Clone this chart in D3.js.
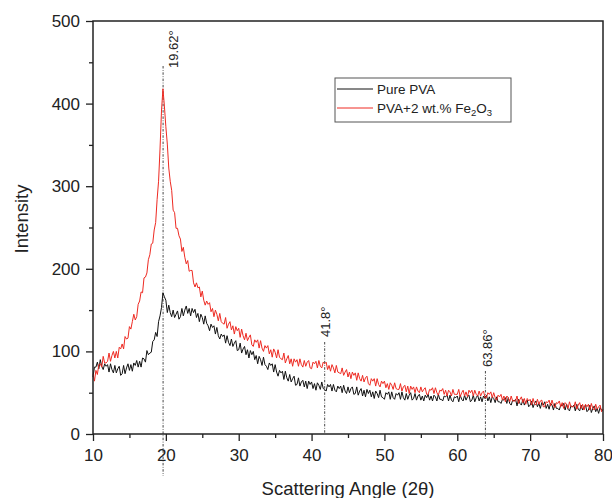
<!DOCTYPE html>
<html><head><meta charset="utf-8">
<script src="https://cdn.jsdelivr.net/npm/d3@7"></script>
<style>
body{margin:0;background:#fff}
text{font-family:"Liberation Sans",Arial,Helvetica,sans-serif;fill:#222}
</style>
</head><body>
<svg id="chart" width="612" height="498"></svg>
<script>
// ---------------- data ----------------
const angleStart = 10;      // 2θ of first sample
const angleStep = 0.2;      // sampling step (degrees)

const purePVA = [
  69, 81, 81, 87, 79, 90, 82, 78, 85, 82,
  84, 75, 85, 78, 74, 83, 74, 79, 82, 71,
  73, 83, 73, 80, 85, 77, 84, 76, 86, 83,
  89, 81, 88, 81, 92, 91, 87, 101, 96, 98,
  99, 112, 114, 123, 118, 136, 143, 153, 171, 166,
  162, 147, 156, 147, 142, 150, 141, 145, 149, 139,
  142, 152, 143, 150, 155, 146, 152, 143, 152, 147,
  151, 141, 146, 136, 145, 141, 133, 143, 134, 131,
  125, 133, 129, 131, 121, 129, 119, 115, 121, 118,
  120, 110, 119, 111, 107, 115, 106, 110, 113, 101,
  102, 110, 98, 103, 106, 96, 102, 92, 101, 96,
  100, 90, 95, 85, 94, 90, 83, 93, 84, 82,
  78, 86, 83, 85, 75, 84, 75, 70, 77, 74,
  76, 66, 76, 68, 64, 72, 63, 67, 70, 59,
  60, 68, 58, 63, 65, 57, 64, 55, 64, 60,
  63, 55, 61, 53, 62, 59, 54, 63, 55, 54,
  52, 60, 57, 60, 52, 60, 53, 51, 58, 55,
  58, 50, 59, 52, 49, 57, 50, 55, 57, 48,
  49, 57, 47, 52, 55, 46, 53, 45, 54, 49,
  53, 45, 51, 43, 52, 49, 44, 53, 45, 44,
  42, 50, 48, 51, 42, 51, 44, 42, 49, 47,
  50, 42, 51, 44, 41, 49, 42, 47, 50, 41,
  43, 49, 41, 46, 48, 41, 46, 40, 47, 44,
  48, 41, 46, 40, 47, 45, 40, 48, 42, 42,
  40, 46, 45, 47, 40, 47, 41, 39, 45, 44,
  46, 39, 47, 42, 40, 47, 41, 45, 47, 39,
  41, 47, 39, 44, 47, 40, 45, 39, 46, 43,
  47, 40, 45, 38, 45, 43, 38, 45, 39, 39,
  37, 42, 41, 44, 37, 44, 37, 35, 41, 40,
  42, 34, 42, 37, 35, 42, 35, 39, 41, 33,
  35, 40, 32, 37, 40, 33, 37, 31, 38, 35,
  39, 31, 36, 30, 37, 35, 29, 37, 31, 31,
  29, 35, 34, 37, 29, 36, 30, 28, 34, 33,
  35, 28, 36, 30, 28, 35, 29, 33, 35, 27,
  29, 35, 26, 31, 34, 27, 31, 25, 32, 29,
  28
];

const pvaFe2O3 = [
  73, 64, 77, 72, 84, 85, 81, 94, 86, 86,
  88, 98, 88, 95, 100, 92, 100, 92, 105, 103,
  109, 103, 118, 115, 116, 130, 127, 136, 145, 138,
  142, 157, 161, 172, 171, 189, 190, 195, 211, 217,
  230, 231, 247, 256, 284, 306, 345, 391, 418, 397,
  372, 351, 322, 306, 295, 271, 268, 249, 249, 240,
  236, 221, 226, 214, 206, 210, 197, 198, 198, 183,
  178, 183, 177, 178, 166, 173, 162, 156, 161, 157,
  159, 148, 152, 142, 150, 145, 137, 146, 136, 134,
  133, 141, 128, 133, 136, 126, 131, 121, 130, 125,
  128, 117, 127, 119, 114, 122, 113, 117, 120, 108,
  106, 114, 111, 114, 104, 113, 104, 100, 107, 104,
  107, 97, 102, 93, 103, 99, 92, 102, 93, 91,
  90, 98, 86, 91, 95, 85, 91, 82, 91, 87,
  90, 82, 91, 84, 81, 89, 82, 87, 89, 80,
  79, 87, 85, 88, 80, 89, 82, 80, 87, 85,
  87, 78, 83, 76, 84, 80, 74, 83, 75, 74,
  73, 80, 71, 75, 78, 69, 75, 67, 75, 71,
  74, 65, 74, 67, 64, 71, 63, 68, 70, 61,
  59, 67, 64, 67, 58, 67, 60, 57, 64, 61,
  64, 56, 61, 54, 62, 59, 54, 62, 55, 54,
  54, 61, 52, 57, 59, 51, 58, 49, 58, 54,
  57, 50, 57, 52, 50, 57, 51, 54, 56, 48,
  48, 54, 53, 56, 49, 56, 50, 47, 53, 52,
  55, 48, 53, 46, 53, 51, 46, 54, 48, 48,
  48, 54, 45, 50, 53, 46, 51, 45, 53, 50,
  53, 46, 53, 48, 46, 52, 46, 50, 52, 44,
  44, 50, 48, 51, 44, 50, 44, 41, 47, 45,
  48, 41, 46, 39, 46, 44, 39, 46, 40, 40,
  40, 46, 37, 42, 45, 38, 43, 36, 43, 40,
  42, 35, 43, 37, 35, 42, 36, 40, 41, 33,
  33, 39, 38, 41, 34, 41, 35, 32, 38, 37,
  40, 33, 38, 31, 38, 36, 31, 39, 33, 33,
  33, 39, 30, 35, 38, 31, 36, 29, 36, 33,
  36, 29, 37, 31, 29, 36, 30, 33, 35, 27,
  30
];

const seriesNames = ["Pure PVA", "PVA+2 wt.% Fe2O3"];
const xTicks = [10, 20, 30, 40, 50, 60, 70, 80];
const xMinorTicks = [15, 25, 35, 45, 55, 65, 75];
const yTicks = [0, 100, 200, 300, 400, 500];
const yMinorTicks = [50, 150, 250, 350, 450];
const peakAngles = [19.62, 41.8, 63.86];
const peakLabels = ["19.62\u00B0", "41.8\u00B0", "63.86\u00B0"];

// ---------------- chart ----------------
const svg = d3.select("#chart");
const L = 93, R = 603, T = 21, B = 434;
const x = d3.scaleLinear().domain([10, 80]).range([L, R]);
const y = d3.scaleLinear().domain([0, 500]).range([B, T]);

const toPoints = arr => arr.map((v, i) => [angleStart + i * angleStep, v]);
const line = d3.line().x(d => x(d[0])).y(d => y(d[1]));

// peak marker lines (under data)
const markerTop = [66, 342, 371];
const markerBottom = [476, 434, 440];
const labelBottom = [68, 337, 367];
const labelX = [178, 330, 492];
peakAngles.forEach((a, i) => {
  svg.append("line")
    .attr("x1", x(a)).attr("x2", x(a))
    .attr("y1", markerTop[i]).attr("y2", markerBottom[i])
    .attr("stroke", "#333").attr("stroke-width", 0.9)
    .attr("stroke-dasharray", "2.5,1.5,0.8,1.5");
  svg.append("text")
    .attr("transform", `translate(${labelX[i]},${labelBottom[i]}) rotate(-90)`)
    .attr("text-anchor", "start")
    .attr("font-size", 13)
    .text(peakLabels[i]);
});

// data lines
svg.append("path").datum(toPoints(purePVA))
  .attr("fill", "none").attr("stroke", "#111").attr("stroke-width", 1)
  .attr("d", line);
svg.append("path").datum(toPoints(pvaFe2O3))
  .attr("fill", "none").attr("stroke", "#ee2a22").attr("stroke-width", 1)
  .attr("d", line);

// axes
const styleAxis = g => {
  g.select(".domain").remove();
  g.selectAll(".tick line").attr("stroke", "#222").attr("stroke-width", 1.3);
  g.selectAll("text").attr("font-size", 17).attr("fill", "#222")
    .style("font-family", '"Liberation Sans",Arial,sans-serif');
};
svg.append("g").attr("transform", `translate(${L},0)`)
  .call(d3.axisLeft(y).tickValues(yTicks).tickSize(7).tickPadding(6))
  .call(styleAxis);
svg.append("g").attr("transform", `translate(${L},0)`)
  .call(d3.axisLeft(y).tickValues(yMinorTicks).tickSize(4).tickFormat(""))
  .call(styleAxis);
svg.append("g").attr("transform", `translate(0,${B})`)
  .call(d3.axisBottom(x).tickValues(xTicks).tickSize(7).tickPadding(8))
  .call(styleAxis);
svg.append("g").attr("transform", `translate(0,${B})`)
  .call(d3.axisBottom(x).tickValues(xMinorTicks).tickSize(4).tickFormat(""))
  .call(styleAxis);

// frame
svg.append("rect").attr("x", L).attr("y", T).attr("width", R - L).attr("height", B - T)
  .attr("fill", "none").attr("stroke", "#222").attr("stroke-width", 1.5);

// axis titles
svg.append("text")
  .attr("x", (L + R) / 2).attr("y", 495)
  .attr("text-anchor", "middle").attr("font-size", 18.5)
  .text("Scattering Angle (2\u03B8)");
svg.append("text")
  .attr("transform", "translate(28,219) rotate(-90)")
  .attr("text-anchor", "middle").attr("font-size", 18.5)
  .text("Intensity");

// legend
const lg = svg.append("g");
lg.append("rect").attr("x", 335).attr("y", 78).attr("width", 176).attr("height", 44)
  .attr("fill", "#fff").attr("stroke", "#555").attr("stroke-width", 1);
const legColors = ["#111", "#ee2a22"];
[89, 108].forEach((ly, i) => {
  lg.append("line").attr("x1", 337).attr("x2", 373).attr("y1", ly).attr("y2", ly)
    .attr("stroke", legColors[i]).attr("stroke-width", 1);
});
lg.append("text").attr("x", 377).attr("y", 94).attr("font-size", 13.5).text(seriesNames[0]);
const t2 = lg.append("text").attr("x", 377).attr("y", 113).attr("font-size", 13.5);
t2.append("tspan").text("PVA+2 wt.% Fe");
t2.append("tspan").attr("font-size", 9.5).attr("dy", 3).text("2");
t2.append("tspan").attr("dy", -3).text("O");
t2.append("tspan").attr("font-size", 9.5).attr("dy", 3).text("3");
</script>
</body></html>
